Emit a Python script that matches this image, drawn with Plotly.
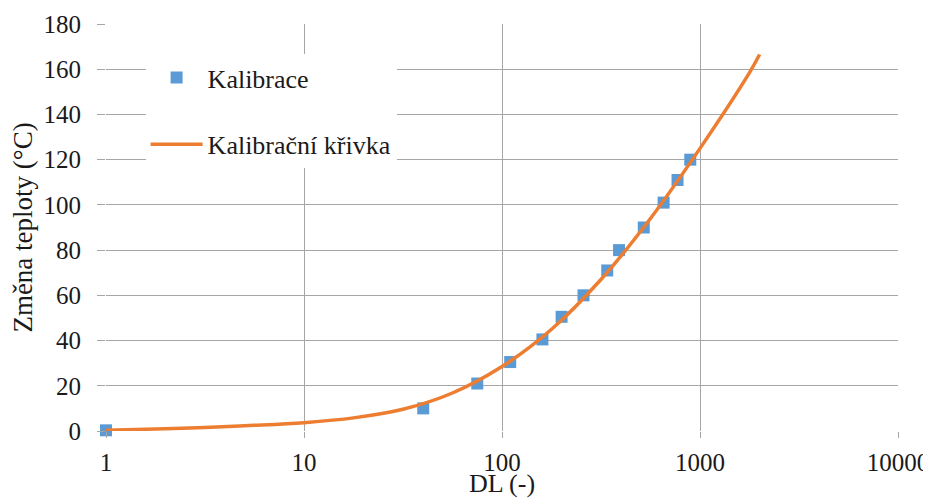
import plotly.graph_objects as go

# Calibration measurements
cal_x = [1, 40, 75, 110, 160, 200, 258, 340, 390, 520, 655, 770, 893]
cal_y = [0.3, 10, 21, 30.5, 40.5, 50.5, 60, 71, 80, 90, 101, 111, 120]

# Calibration curve
curve_x = [1, 1.78, 3.16, 5.62, 10, 17.8, 31.6, 56.2, 100, 178, 316, 562, 1000, 1778, 2000]
curve_y = [0.3, 0.9, 1.6, 2.5, 3.7, 5.8, 9.6, 16.8, 28.5, 45, 67, 94, 125, 158.5, 166.5]

x_tickvals = [1, 10, 100, 1000, 10000]
x_ticktext = ["1", "10", "100", "1000", "10000"]
y_tickvals = [0, 20, 40, 60, 80, 100, 120, 140, 160, 180]

series_names = ["Kalibrace", "Kalibrační křivka"]
x_title = "DL (-)"
y_title = "Změna teploty (°C)"

FONT = "Liberation Serif"
GRID = "#a6a6a6"
TXT = "#1a1a1a"

fig = go.Figure()
fig.add_trace(go.Scatter(
    x=cal_x, y=cal_y, mode="markers", name=series_names[0],
    marker=dict(symbol="square", size=12, color="#5B9BD5"),
    legendgroup="a", cliponaxis=False,
))
fig.add_trace(go.Scatter(
    x=curve_x, y=curve_y, mode="lines", name=series_names[1],
    line=dict(color="#ED7D31", width=3.5, shape="spline", smoothing=1.0),
    legendgroup="b", cliponaxis=False,
))

# page body has an 8px margin: figure is 923x490 so it lands at the same pixels as the reference
fig.update_layout(
    template="none",
    width=923, height=490,
    margin=dict(l=98, r=33, t=16, b=67),
    paper_bgcolor="white", plot_bgcolor="white",
    font=dict(family=FONT, size=24, color=TXT),
    showlegend=True,
    legend=dict(
        x=0.05, y=0.926, xanchor="left", yanchor="top",
        bgcolor="white", borderwidth=0,
        font=dict(family=FONT, size=26, color=TXT),
        tracegroupgap=30, traceorder="grouped",
        itemwidth=52,
    ),
    xaxis=dict(
        type="log", range=[0, 4], automargin=False,
        tickvals=x_tickvals, ticktext=x_ticktext,
        showgrid=True, gridcolor=GRID, gridwidth=1.3,
        showline=False, zeroline=False,
        ticks="outside", ticklen=6, tickcolor=GRID, tickwidth=1.3,
        ticklabelstandoff=3,
        tickfont=dict(family=FONT, size=25, color=TXT),
        title=dict(text=x_title, font=dict(family=FONT, size=26, color=TXT), standoff=5),
    ),
    yaxis=dict(
        range=[0, 180], tickvals=y_tickvals, automargin=False,
        showgrid=True, gridcolor=GRID, gridwidth=1.3,
        showline=False, zeroline=False,
        ticks="outside", ticklen=8, tickcolor=GRID, tickwidth=1.3,
        ticklabelstandoff=11,
        tickfont=dict(family=FONT, size=25, color=TXT),
        title=dict(text=y_title, font=dict(family=FONT, size=27, color=TXT), standoff=9),
    ),
)

fig.write_html("out.html")
